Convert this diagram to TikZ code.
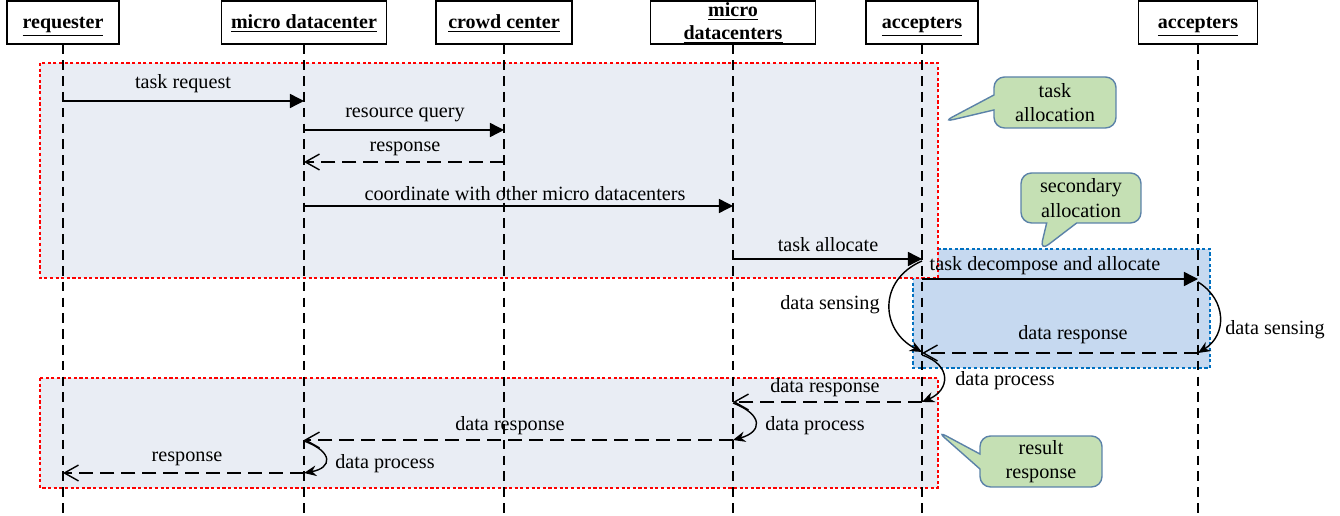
\documentclass[tikz,border=0pt]{standalone}
\usepackage{fontspec}
\setmainfont{Liberation Serif}
\usetikzlibrary{arrows.meta,shapes.callouts}
\definecolor{boxred}{HTML}{FF0000}
\definecolor{boxblue}{HTML}{0070C0}
\definecolor{fillgray}{HTML}{E9EDF4}
\definecolor{fillblue}{HTML}{C6D9F0}
\definecolor{callfill}{HTML}{C5E0B4}
\definecolor{calldraw}{HTML}{5B82A8}
\tikzset{
  txt/.style={font=\fontsize{11.5}{12}\selectfont, inner sep=0pt, yshift=-1pt},
  headbox/.style={draw=black, line width=0.6pt, fill=white, minimum height=0.86cm, inner sep=0pt},
  headtxt/.style={font=\fontsize{11.4}{13}\selectfont\bfseries, inner sep=0pt, anchor=base},
  lifeline/.style={black, line width=0.6pt, dash pattern=on 5.5pt off 3.5pt},
  msg/.style={black, line width=0.8pt, -{Triangle[length=8pt,width=8pt]}},
  ret/.style={black, line width=0.8pt, dash pattern=on 8pt off 4pt, -{Straight Barb[length=8pt,width=9pt]}},
  self/.style={black, line width=0.8pt, -{Stealth[length=7pt,width=6pt]}},
  redframe/.style={draw=boxred, fill=fillgray, line width=1.6pt, dash pattern=on 1.8pt off 1.4pt},
  blueframe/.style={draw=boxblue, fill=fillblue, line width=1.6pt, dash pattern=on 1.8pt off 1.4pt},
  callbox/.style={rectangle callout, draw=calldraw, fill=callfill, line width=0.8pt, rounded corners=6pt, align=center, font=\fontsize{11.5}{14}\selectfont, minimum width=2.44cm, minimum height=1.02cm, inner sep=0pt}
}
\begin{document}
\begin{tikzpicture}[x=0.02cm,y=-0.02cm]
\useasboundingbox (0,0) rectangle (1340,516);
% frames
\path[blueframe] (913,249) rectangle (1210,368);
\path[redframe] (40,63) rectangle (938,278);
\path[redframe] (40,378) rectangle (938,488);
% headers
\node[headbox, minimum width=2.24cm] (req) at (63,22.5) {};
\node[headbox, minimum width=3.3cm] (mdc) at (304,22.5) {};
\node[headbox, minimum width=2.72cm] (crowd) at (504,22.5) {};
\node[headbox, minimum width=3.3cm] (mdcs) at (733,22.5) {};
\node[headbox, minimum width=2.24cm] (acc) at (922,22.5) {};
\node[headbox, minimum width=2.38cm] (acc2) at (1198,22.5) {};
\node[headtxt] (req-t) at (63,29) {\underline{requester}};
\node[headtxt] (mdc-t) at (304,29) {\underline{micro datacenter}};
\node[headtxt] (crowd-t) at (504,29) {\underline{crowd center}};
\node[headtxt] (mdcs-t1) at (733,16.5) {\underline{micro}};
\node[headtxt] (mdcs-t2) at (733,39.5) {\underline{datacenters}};
\node[headtxt] (acc-t) at (922,29) {\underline{accepters}};
\node[headtxt] (acc2-t) at (1198,29) {\underline{accepters}};
% lifelines
\foreach \n in {req,mdc,crowd,mdcs,acc,acc2}{
  \coordinate (\n-end) at (\n.south |- 0,516);
  \draw[lifeline] (\n.south) -- (\n-end);
}
% messages
\draw[msg] (req |- 0,101) -- (mdc |- 0,101);
\draw[msg] (mdc |- 0,130) -- (crowd |- 0,130);
\draw[ret] (crowd |- 0,162) -- (mdc |- 0,162);
\draw[msg] (mdc |- 0,206) -- (mdcs |- 0,206);
\draw[msg] (mdcs |- 0,259) -- (acc |- 0,259);
\draw[msg] (acc |- 0,279) -- (acc2 |- 0,279);
\draw[self] (acc2 |- 0,282) .. controls (1227,300) and (1227,335) .. (acc2 |- 0,353);
\draw[ret] (acc2 |- 0,353) -- (acc |- 0,353);
\draw[self] (acc |- 0,261) .. controls (878,280) and (880,330) .. (acc |- 0,352);
\draw[self] (acc |- 0,355) .. controls (952,365) and (950,390) .. (acc |- 0,402);
\draw[ret] (acc |- 0,402) -- (mdcs |- 0,402);
\draw[self] (mdcs |- 0,403) .. controls (764,415) and (762,432) .. (mdcs |- 0,440);
\draw[ret] (mdcs |- 0,440) -- (mdc |- 0,440);
\draw[self] (mdc |- 0,441) .. controls (334,452) and (332,468) .. (mdc |- 0,473);
\draw[ret] (mdc |- 0,473) -- (req |- 0,473);
% labels
\node[txt] (l1) at (183,82) {task request};
\node[txt] (l2) at (405,113) {resource query};
\node[txt] (l3) at (405,147) {response};
\node[txt] (l4) at (525,192) {coordinate with other micro datacenters};
\node[txt] (l5) at (828,243) {task allocate};
\node[txt] (l6) at (1045,264) {task decompose and allocate};
\node[txt] (l7) at (1275,328) {data sensing};
\node[txt] (l8) at (1073,333) {data response};
\node[txt] (l9) at (830,303) {data sensing};
\node[txt] (l10) at (1005,379) {data process};
\node[txt] (l11) at (825,386) {data response};
\node[txt] (l12) at (815,424) {data process};
\node[txt] (l13) at (510,424) {data response};
\node[txt] (l14) at (385,462) {data process};
\node[txt] (l15) at (187,457) {response};
% callouts
\node[callbox, callout absolute pointer={(943,122)}, callout pointer width=0.3cm] (c1) at (1055,102.5) {task\\allocation};
\node[callbox, minimum width=2.4cm, minimum height=1.0cm, callout absolute pointer={(1040,251)}, callout pointer width=0.6cm] (c2) at (1081,198) {secondary\\allocation};
\node[callbox, callout absolute pointer={(937,431)}, callout pointer width=0.3cm] (c3) at (1041,461.5) {result\\response};
\end{tikzpicture}
\end{document}
